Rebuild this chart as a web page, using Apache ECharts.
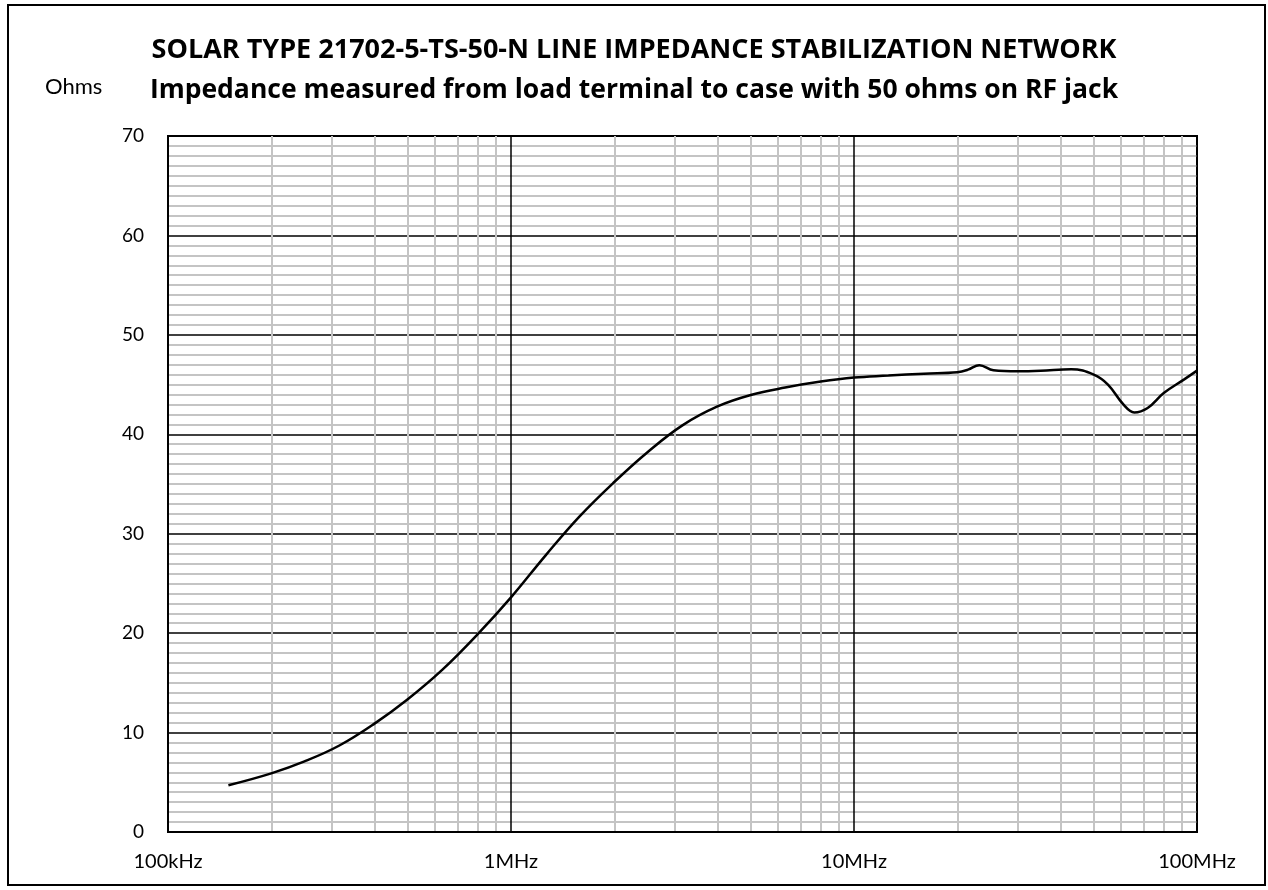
<!DOCTYPE html>
<html lang="en">
<head>
  <meta charset="UTF-8">
  <title>LISN impedance</title>
  <style>
    html, body { margin: 0; padding: 0; background: #fff; }
    #main { width: 1268px; height: 890px; }
  </style>
  <script src="https://cdn.jsdelivr.net/npm/echarts@6/dist/echarts.min.js"></script>
</head>
<body>
  <div id="main"></div>
  <script>
    // frequency points (Hz) and impedance (ohms)
    var freqHz = [150e3, 200e3, 250e3, 316e3, 400e3, 500e3, 630e3, 800e3,
      1e6, 1.26e6, 1.58e6, 2e6, 2.5e6, 3.16e6, 4e6, 5e6, 6.3e6, 8e6,
      10e6, 12.6e6, 16e6, 20e6, 21.5e6, 23.2e6, 25.5e6, 30e6, 35e6, 43e6,
      50e6, 55e6, 61e6, 65.6e6, 71.8e6, 80e6, 92e6, 100e6];
    var ohms = [4.7, 5.9, 7.1, 8.7, 10.9, 13.35, 16.3, 19.9,
      23.6, 27.8, 31.7, 35.2, 38.2, 40.9, 42.8, 43.95, 44.7, 45.3,
      45.7, 45.9, 46.1, 46.25, 46.5, 46.95, 46.45, 46.35, 46.4, 46.55,
      46.0, 45.0, 43.0, 42.2, 42.65, 44.15, 45.55, 46.4];

    var xTickValues = [1e5, 1e6, 1e7, 1e8];
    var xTickLabels = ['100kHz', '1MHz', '10MHz', '100MHz'];

    var titleLine1 = 'SOLAR TYPE 21702-5-TS-50-N LINE IMPEDANCE STABILIZATION NETWORK';
    var titleLine2 = 'Impedance measured from load terminal to case with 50 ohms on RF jack';

    var points = freqHz.map(function (f, i) { return [f, ohms[i]]; });

    var font = 'Lato';
    var chart = echarts.init(document.getElementById('main'));
    chart.setOption({
      animation: false,
      backgroundColor: '#fff',
      title: {
        text: '{a|' + titleLine1 + '}\n{b|' + titleLine2 + '}',
        left: 'center',
        top: 25,
        textStyle: {
          rich: {
            a: { fontFamily: 'Open Sans', fontWeight: 'bold', fontSize: 27, lineHeight: 40, color: '#000' },
            b: { fontFamily: 'Open Sans', fontWeight: 'bold', fontSize: 26.5, lineHeight: 40, color: '#000' }
          }
        }
      },
      graphic: [
        {
          type: 'rect',
          shape: { x: 8, y: 5, width: 1257, height: 880 },
          style: { fill: 'none', stroke: '#000', lineWidth: 2 }
        },
        {
          type: 'text',
          left: 45, top: 76,
          style: { text: 'Ohms', fontFamily: font, fontSize: 22, fill: '#000' }
        }
      ],
      grid: {
        left: 168, right: 71, top: 136, bottom: 58,
        show: true, borderColor: '#000', borderWidth: 2, backgroundColor: 'transparent'
      },
      xAxis: {
        type: 'log',
        logBase: 10,
        min: 1e5,
        max: 1e8,
        axisLine: { show: true, lineStyle: { color: '#000', width: 2 } },
        axisTick: { show: false },
        minorTick: { show: false, splitNumber: 9 },
        splitLine: { show: true, lineStyle: { color: '#000', width: 1.5 } },
        minorSplitLine: { show: true, lineStyle: { color: '#c4c4c4', width: 2 } },
        axisLabel: {
          margin: 20,
          fontFamily: font, fontSize: 20, color: '#000',
          formatter: function (v) {
            var i = xTickValues.indexOf(Math.round(v));
            return i >= 0 ? xTickLabels[i] : '';
          }
        }
      },
      yAxis: {
        type: 'value',
        min: 0,
        max: 70,
        interval: 10,
        axisLine: { show: true, lineStyle: { color: '#000', width: 2 } },
        axisTick: { show: false },
        minorTick: { show: false, splitNumber: 10 },
        splitLine: { show: true, lineStyle: { color: '#000', width: 1.5 } },
        minorSplitLine: { show: true, lineStyle: { color: '#c4c4c4', width: 2 } },
        axisLabel: { margin: 24, fontFamily: font, fontSize: 19, color: '#000' }
      },
      series: [
        {
          type: 'line',
          data: points,
          smooth: 0.4,
          showSymbol: false,
          lineStyle: { color: '#000', width: 2.5 },
          z: 10
        }
      ]
    });
  </script>
</body>
</html>
